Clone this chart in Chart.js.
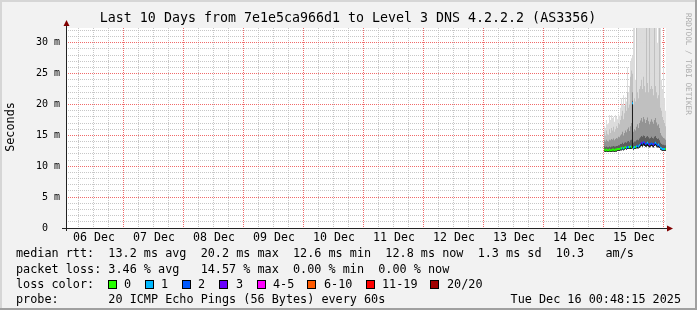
<!DOCTYPE html>
<html>
<head>
<meta charset="utf-8">
<script src="https://cdn.jsdelivr.net/npm/chart.js@4.4.1/dist/chart.umd.min.js"></script>
<style>
    html, body { margin: 0; padding: 0; background: #f2f2f2; }
    canvas { display: block; }
</style>
</head>
<body>
<canvas id="myChart" width="697" height="310"></canvas>
<script>
// x axis is hours since 06 Dec 00:00, the graph ends Tue Dec 16 00:48:15
const startHour = 0.804;
const endHour = 240.804;
const dayLabels = ['06 Dec', '07 Dec', '08 Dec', '09 Dec', '10 Dec', '11 Dec', '12 Dec', '13 Dec', '14 Dec', '15 Dec'];
const yTickLabels = ['0  ', '5 m', '10 m', '15 m', '20 m', '25 m', '30 m'];

// one sample every 24 minutes, first one at 15 Dec 00:00 (values in ms)
const firstBin = 216.2;
const binStep = 0.4;

const rttMin = [12.4,12.3,12.4,12.3,12.3,12.4,12.3,12.3,12.4,12.4,12.3,12.4,12.4,12.5,12.5,12.5,
    12.6,12.6,12.7,12.6,12.7,12.8,12.7,12.8,12.8,12.8,12.8,12.8,
    12.9,
    12.7,12.8,12.8,12.9,12.9,12.9,13.0,
    13.2,13.3,13.2,13.4,13.3,13.2,13.2,13.3,13.2,13.1,13.2,13.3,
    13.2,13.1,13.3,13.4,13.2,13.1,13.1,13.0,
    12.7,12.6,12.5,12.5,12.5,12.5];
const rttMedian = [12.7,12.6,12.7,12.6,12.6,12.7,12.6,12.6,12.7,12.7,12.6,12.7,12.7,12.8,12.8,12.8,
    12.9,12.9,13.0,12.9,13.0,13.1,13.0,13.1,13.1,13.1,13.2,13.1,
    20.2,
    13.0,13.1,13.1,13.2,13.3,13.2,13.4,
    13.6,13.8,13.7,13.9,13.8,13.6,13.7,13.8,13.6,13.5,13.6,13.7,
    13.6,13.5,13.7,13.8,13.6,13.4,13.5,13.3,
    13.0,12.9,12.8,12.8,12.8,12.8];
const rttP60 = [13.2,13.1,13.2,13.1,13.1,13.2,13.1,13.2,13.2,13.3,13.2,13.2,13.3,13.3,13.4,13.4,
    13.6,13.6,13.8,13.6,13.8,13.9,13.8,14.0,14.1,13.9,14.2,14.3,
    20.6,
    13.8,14.0,14.0,14.2,14.3,14.2,14.5,
    14.7,14.9,14.8,15.0,14.9,14.6,14.8,14.9,14.7,14.5,14.6,14.8,
    14.6,14.5,14.8,14.9,14.6,14.4,14.5,14.2,
    13.8,13.6,13.5,13.5,13.4,13.4];
const rttP75 = [14.2,14.0,14.3,14.1,14.0,14.3,14.2,14.4,14.3,14.5,14.2,14.4,14.6,14.5,14.8,14.7,
    15.0,15.2,15.6,15.0,15.4,15.8,15.5,16.0,16.3,15.7,16.5,17.0,
    22.0,
    15.6,16.0,15.8,16.4,16.8,16.2,17.0,
    17.4,17.8,17.2,18.0,17.6,17.0,17.5,17.9,17.3,16.8,17.2,17.6,
    17.2,16.9,17.5,17.8,17.1,16.6,16.8,16.2,
    15.4,15.0,14.8,14.6,14.5,14.3];
const rttP90 = [15.5,15.0,15.8,15.2,15.1,16.0,15.4,16.2,15.8,16.4,15.6,16.0,16.5,16.2,17.0,16.8,
    17.5,18.2,19.0,17.6,18.6,20.0,19.0,22.0,19.5,20.0,24.5,25.5,
    25.0,
    20.0,21.0,20.5,34.0,22.0,21.0,22.5,
    23.0,24.0,22.5,24.5,23.0,22.0,34.0,23.5,22.0,34.0,22.5,23.0,
    22.5,21.5,34.0,23.0,22.0,21.0,21.5,34.0,
    19.5,19.0,18.0,17.5,17.0,16.5];
const rttMax = [16.5,16.2,17.5,16.8,17.0,18.3,17.5,18.3,17.8,18.0,17.2,18.3,18.0,17.6,18.5,18.2,
    19.5,21.0,20.0,21.5,19.8,21.2,20.5,26.0,22.0,23.0,27.0,27.5,
    28.0,
    35,35,24,35,35,35,33,
    35,35,35,35,35,35,35,35,35,35,35,35,
    35,35,35,35,35,30,35,35,
    35,24,22.5,26,21,19];
// lost pings out of 20 per sample
const lossCount = [0,0,0,0,0,0,0,0,0,0,0,0,0,0,0,0,
    0,1,0,1,0,0,1,2,1,0,1,0,
    1,
    1,1,0,1,2,1,1,
    2,3,2,2,3,2,2,1,2,3,2,2,
    2,3,2,1,2,2,1,2,
    1,1,1,1,1,0];

const lossLabels = ['0', '1', '2', '3', '4-5', '6-10', '11-19', '20/20'];
const lossColors = ['#26ff00', '#00b8ff', '#0059ff', '#6a00ff', '#ff00ff', '#ff5a00', '#ff0000', '#a00000'];

function lossClass(n) {
    if (n <= 3) return n;
    if (n <= 5) return 4;
    if (n <= 10) return 5;
    if (n <= 19) return 6;
    return 7;
}

const binHours = rttMedian.map((v, i) => firstBin + i * binStep);
const lineHalf = 0.17; // median line is about 2px thick

function band(lo, hi) {
    return hi.map((v, i) => ({x: binHours[i], y: [lo[i], v]}));
}

function smoke(data, color) {
    return {
        type: 'bar', data: data, backgroundColor: color, grouped: false,
        barPercentage: 1, categoryPercentage: 1, borderWidth: 0, inflateAmount: 0
    };
}

const mono = '"DejaVu Sans Mono", monospace';

const rrdPlugin = {
    id: 'rrd',
    beforeDraw(chart) {
        let ctx = chart.ctx, a = chart.chartArea, w = chart.width, h = chart.height;
        ctx.save();
        ctx.fillStyle = '#f2f2f2';
        ctx.fillRect(0, 0, w, h);
        ctx.fillStyle = '#ffffff';
        ctx.fillRect(a.left, a.top, a.right - a.left, a.bottom - a.top);
        ctx.fillStyle = '#d6d6d6';
        ctx.fillRect(0, 0, w, 2);
        ctx.fillRect(0, 0, 2, h);
        ctx.fillStyle = '#a0a0a0';
        ctx.fillRect(0, h - 2, w, 2);
        ctx.fillRect(w - 2, 0, 2, h);
        ctx.restore();
    },
    afterDraw(chart) {
        let ctx = chart.ctx, a = chart.chartArea;
        ctx.save();
        // axes with arrows
        ctx.strokeStyle = '#222222';
        ctx.lineWidth = 1;
        ctx.beginPath();
        ctx.moveTo(a.left + 0.5, a.bottom + 3);
        ctx.lineTo(a.left + 0.5, a.top - 3);
        ctx.moveTo(a.left - 4, a.bottom + 0.5);
        ctx.lineTo(a.right + 2, a.bottom + 0.5);
        ctx.stroke();
        ctx.fillStyle = '#800000';
        ctx.beginPath();
        ctx.moveTo(a.left + 0.5, a.top - 8);
        ctx.lineTo(a.left + 3.5, a.top - 2);
        ctx.lineTo(a.left - 2.5, a.top - 2);
        ctx.closePath();
        ctx.fill();
        ctx.beginPath();
        ctx.moveTo(a.right + 7, a.bottom + 0.5);
        ctx.lineTo(a.right + 1, a.bottom - 2.5);
        ctx.lineTo(a.right + 1, a.bottom + 3.5);
        ctx.closePath();
        ctx.fill();

        ctx.fillStyle = '#000000';
        ctx.textBaseline = 'middle';
        ctx.textAlign = 'center';
        ctx.font = '13.3px ' + mono;
        ctx.fillText('Last 10 Days from 7e1e5ca966d1 to Level 3 DNS 4.2.2.2 (AS3356)', 348, 19);

        ctx.font = '11.8px ' + mono;
        ctx.save();
        ctx.translate(11, 127);
        ctx.rotate(-Math.PI / 2);
        ctx.fillText('Seconds', 0, 0);
        ctx.restore();

        ctx.textAlign = 'left';
        ctx.fillText('median rtt:  13.2 ms avg  20.2 ms max  12.6 ms min  12.8 ms now  1.3 ms sd  10.3   am/s', 16, 254);
        ctx.fillText('packet loss: 3.46 % avg   14.57 % max  0.00 % min  0.00 % now', 16, 269.5);
        ctx.fillText('loss color:', 16, 285);
        let boxX = [108, 145, 182, 219, 257, 307, 366, 430];
        let textX = [124, 161, 198, 236, 273, 324, 382, 447];
        lossLabels.forEach(function(lbl, i) {
            ctx.fillStyle = lossColors[i];
            ctx.fillRect(boxX[i], 280, 9, 9);
            ctx.strokeStyle = '#000000';
            ctx.strokeRect(boxX[i] + 0.5, 280.5, 8, 8);
            ctx.fillStyle = '#000000';
            ctx.fillText(lbl, textX[i], 285);
        });
        ctx.fillText('probe:       20 ICMP Echo Pings (56 Bytes) every 60s', 16, 300);
        ctx.textAlign = 'right';
        ctx.fillText('Tue Dec 16 00:48:15 2025', 681, 300);

        ctx.fillStyle = '#ababab';
        ctx.font = '7.7px ' + mono;
        ctx.textAlign = 'left';
        ctx.translate(688, 13);
        ctx.rotate(Math.PI / 2);
        ctx.fillText('RRDTOOL / TOBI OETIKER', 0, 0);
        ctx.restore();
    }
};

const gridColor = 'rgba(185, 185, 185, 0.8)';
const majorColor = 'rgba(238, 90, 90, 0.9)';

let ctx = document.getElementById('myChart');
let myChart = new Chart(ctx, {
    type: 'bar',
    data: {
        datasets: [
            {
                type: 'bar',
                data: rttMedian.map((v, i) => ({x: binHours[i], y: [v - lineHalf, v + lineHalf]})),
                backgroundColor: (c) => lossColors[lossClass(lossCount[c.dataIndex])],
                grouped: false, barPercentage: 1, categoryPercentage: 1, borderWidth: 0, inflateAmount: 0
            },
            smoke(band(rttMin, rttMedian), '#1e1e1e'),
            smoke(band(rttMin, rttP60), '#5e5e5e'),
            smoke(band(rttMin, rttP75), '#939393'),
            smoke(band(rttMin, rttP90), '#c0c0c0'),
            smoke(band(rttMin, rttMax), '#dcdcdc')
        ]
    },
    options: {
        responsive: false,
        animation: false,
        devicePixelRatio: 1,
        layout: { padding: { left: 0, right: 31, top: 28, bottom: 62 } },
        plugins: { legend: { display: false }, tooltip: { enabled: false }, title: { display: false } },
        scales: {
            x: {
                type: 'linear',
                min: startHour,
                max: endHour,
                offset: false,
                z: 1,
                afterBuildTicks: function(s) {
                    let t = [];
                    for (let v = 6; v <= 240; v += 6) t.push({value: v});
                    s.ticks = t;
                },
                afterFit: function(s) { s.height = 20; s.paddingLeft = 0; s.paddingRight = 0; },
                grid: {
                    offset: false,
                    drawTicks: false,
                    color: (c) => (c.tick && c.tick.value % 24 === 0) ? majorColor : gridColor
                },
                border: { display: false, dash: [1, 1] },
                ticks: {
                    autoSkip: false, maxRotation: 0, minRotation: 0, padding: 3,
                    color: '#000000',
                    font: { family: mono, size: 11.6 },
                    callback: (v) => v % 24 === 12 ? dayLabels[(v - 12) / 24] : ''
                }
            },
            y: {
                type: 'linear',
                min: 0,
                max: 32.4,
                z: 1,
                afterBuildTicks: function(s) {
                    let t = [];
                    for (let v = 0; v <= 32; v++) t.push({value: v});
                    s.ticks = t;
                },
                afterFit: function(s) { s.width = 66; },
                grid: {
                    drawTicks: false,
                    color: (c) => (c.tick && c.tick.value % 5 === 0) ? majorColor : gridColor
                },
                border: { display: false, dash: [1, 1] },
                ticks: {
                    autoSkip: false, padding: 6,
                    color: '#000000',
                    font: { family: mono, size: 10 },
                    callback: (v) => v % 5 === 0 ? yTickLabels[v / 5] : ''
                }
            }
        }
    },
    plugins: [rrdPlugin]
});
</script>
</body>
</html>
